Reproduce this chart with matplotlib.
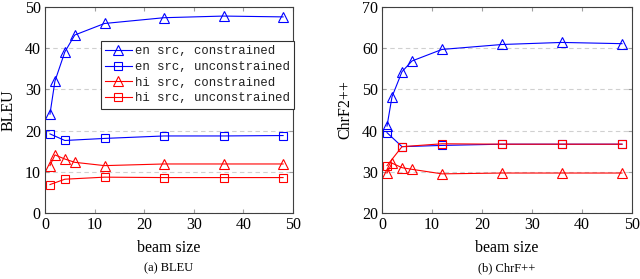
import matplotlib.pyplot as plt

# beam sizes
beam_con = [1, 2, 4, 6, 12, 24, 36, 48]
beam_unc = [1, 4, 12, 24, 36, 48]

# (a) BLEU
bleu_en_con = [24.0, 32.0, 39.1, 43.2, 46.0, 47.4, 47.8, 47.6]
bleu_en_unc = [19.2, 17.6, 18.1, 18.7, 18.7, 18.8]
bleu_hi_con = [11.5, 14.1, 13.1, 12.3, 11.5, 11.9, 11.9, 11.9]
bleu_hi_unc = [6.9, 8.2, 8.7, 8.6, 8.6, 8.6]

# (b) ChrF++
chrf_en_con = [41.1, 48.2, 54.3, 56.9, 59.7, 60.9, 61.4, 61.1]
chrf_en_unc = [39.5, 36.1, 36.4, 36.7, 36.7, 36.7]
chrf_hi_con = [29.7, 32.1, 31.0, 30.6, 29.5, 29.7, 29.7, 29.7]
chrf_hi_unc = [31.5, 36.1, 36.8, 36.7, 36.7, 36.7]

labels = ["en src, constrained", "en src, unconstrained",
          "hi src, constrained", "hi src, unconstrained"]

SERIF = "Liberation Serif"
MONO = "Liberation Mono"

fig = plt.figure(figsize=(6.4, 2.79), dpi=100)
ax1 = fig.add_axes([45 / 640, 66 / 279, 248 / 640, 206 / 279])
ax2 = fig.add_axes([382 / 640, 66 / 279, 250 / 640, 206 / 279])


def draw(ax, series, ylim, yticks, ylabel):
    styles = [("blue", "^", 7), ("blue", "s", 5.5), ("red", "^", 7), ("red", "s", 5.5)]
    xs = [beam_con, beam_unc, beam_con, beam_unc]
    for x, y, (c, m, ms), lab in zip(xs, series, styles, labels):
        ax.plot(x, y, color=c, marker=m, markersize=ms, markerfacecolor="none",
                markeredgecolor=c, linewidth=0.8, markeredgewidth=0.8, label=lab)
    ax.set_xlim(0, 50)
    ax.set_ylim(*ylim)
    ax.set_xticks([0, 10, 20, 30, 40, 50])
    ax.set_yticks(yticks)
    ax.yaxis.grid(True, linestyle=(0, (4, 3)), color="#d0d0d0", linewidth=0.8)
    ax.set_axisbelow(True)
    ax.tick_params(direction="in", top=True, right=True, length=3, color="#a0a0a0",
                   labelsize=11.5, pad=3)
    for lbl in ax.get_xticklabels() + ax.get_yticklabels():
        lbl.set_fontfamily(SERIF)
    for sp in ax.spines.values():
        sp.set_color("#404040")
        sp.set_linewidth(0.8)
    ax.set_xlabel("beam size", fontfamily=SERIF, fontsize=11.5, labelpad=5)
    ax.set_ylabel(ylabel, fontfamily=SERIF, fontsize=11.5, labelpad=6)


draw(ax1, [bleu_en_con, bleu_en_unc, bleu_hi_con, bleu_hi_unc],
     (0, 50), [0, 10, 20, 30, 40, 50], "BLEU")
draw(ax2, [chrf_en_con, chrf_en_unc, chrf_hi_con, chrf_hi_unc],
     (20, 70), [20, 30, 40, 50, 60, 70], "ChrF2++")

leg = ax1.legend(loc="upper right", bbox_to_anchor=(1.004, 0.835), fancybox=False,
                 framealpha=1, edgecolor="#303030", prop={"family": MONO, "size": 8.8},
                 handlelength=2.2, handletextpad=0.25, labelspacing=0.3,
                 borderpad=0.35, borderaxespad=0)
leg.get_frame().set_linewidth(0.8)
for t in leg.get_texts():
    t.set_color("#202020")

fig.text(169 / 640, 11 / 279, "(a) BLEU", ha="center", va="center",
         fontfamily=SERIF, fontsize=9)
fig.text(507 / 640, 11 / 279, "(b) ChrF++", ha="center", va="center",
         fontfamily=SERIF, fontsize=9)

fig.savefig("out.png", dpi=100)
